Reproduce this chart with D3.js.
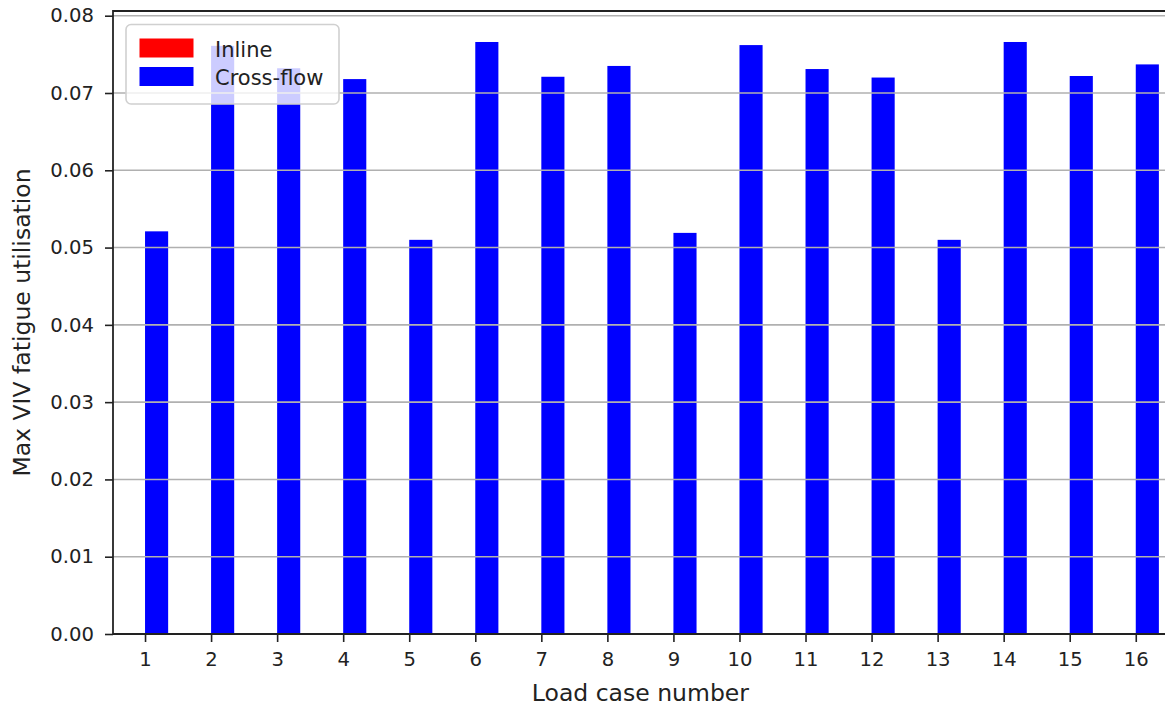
<!DOCTYPE html>
<html>
<head>
<meta charset="utf-8">
<script src="https://cdn.jsdelivr.net/npm/d3@7/dist/d3.min.js"></script>
<style>
  html, body { margin: 0; padding: 0; background: #fff; }
  svg { display: block; font-family: "DejaVu Sans", sans-serif; }
</style>
</head>
<body>
<svg id="chart" width="1165" height="707"></svg>
<script>
const loadCases = [1,2,3,4,5,6,7,8,9,10,11,12,13,14,15,16];
const inlineValues = [0,0,0,0,0,0,0,0,0,0,0,0,0,0,0,0];
const crossFlowValues = [0.0521,0.0761,0.0732,0.0718,0.0510,0.0766,0.0721,0.0735,0.0519,0.0762,0.0731,0.0720,0.0510,0.0766,0.0722,0.0737];
const yTicks = [0.00,0.01,0.02,0.03,0.04,0.05,0.06,0.07,0.08];
const seriesNames = ["Inline", "Cross-flow"];
const seriesColors = ["#ff0000", "#0000ff"];

const svg = d3.select("#chart");
const padLeft = 113, padTop = 11, padBottom = 634, rightPx = 1167.8;
const barW = 0.35;

const x = d3.scaleLinear().domain([0.515, 16.485]).range([padLeft, rightPx]);
const y = d3.scaleLinear().domain([0, 0.08061]).range([padBottom, padTop]);

// bars
const gBars = svg.append("g");
gBars.selectAll("rect.inline").data(loadCases).join("rect")
  .attr("class", "inline")
  .attr("x", d => x(d - barW))
  .attr("width", d => x(d) - x(d - barW))
  .attr("y", (d, i) => y(inlineValues[i]))
  .attr("height", (d, i) => y(0) - y(inlineValues[i]))
  .attr("fill", seriesColors[0]);
gBars.selectAll("rect.cross").data(loadCases).join("rect")
  .attr("class", "cross")
  .attr("x", d => x(d))
  .attr("width", d => x(d + barW) - x(d))
  .attr("y", (d, i) => y(crossFlowValues[i]))
  .attr("height", (d, i) => y(0) - y(crossFlowValues[i]))
  .attr("fill", seriesColors[1]);

// grid (drawn above bars)
svg.append("g").selectAll("line").data(yTicks).join("line")
  .attr("x1", padLeft).attr("x2", 1165)
  .attr("y1", d => y(d)).attr("y2", d => y(d))
  .attr("stroke", "#b0b0b0").attr("stroke-width", 1.6);

// axes
const yAxis = d3.axisLeft(y).tickValues(yTicks).tickFormat(d3.format(".2f")).tickSize(8).tickPadding(11);
const gy = svg.append("g").attr("transform", `translate(${padLeft},0)`).call(yAxis);
const xAxis = d3.axisBottom(x).tickValues(loadCases).tickFormat(d3.format("d")).tickSize(8).tickPadding(10);
const gx = svg.append("g").attr("transform", `translate(0,${padBottom})`).call(xAxis);
[gx, gy].forEach(g => {
  g.select(".domain").remove();
  g.selectAll(".tick line").attr("stroke", "#222").attr("stroke-width", 1.6);
  g.selectAll(".tick text").attr("fill", "#222").style("font-size", "19.6px").style("font-family", "DejaVu Sans");
});

// spines
svg.append("line").attr("x1", padLeft).attr("x2", 1165).attr("y1", padBottom).attr("y2", padBottom).attr("stroke", "#222").attr("stroke-width", 1.8);
svg.append("line").attr("x1", padLeft).attr("x2", 1165).attr("y1", padTop).attr("y2", padTop).attr("stroke", "#222").attr("stroke-width", 1.8);
svg.append("line").attr("x1", padLeft).attr("x2", padLeft).attr("y1", padTop - 0.9).attr("y2", padBottom + 0.9).attr("stroke", "#222").attr("stroke-width", 1.8);

// axis labels
svg.append("text").attr("x", (padLeft + rightPx) / 2).attr("y", 701)
  .attr("text-anchor", "middle").attr("fill", "#222").style("font-size", "23.5px")
  .text("Load case number");
svg.append("text").attr("transform", `translate(30,${(padTop + padBottom) / 2}) rotate(-90)`)
  .attr("text-anchor", "middle").attr("fill", "#222").style("font-size", "23.5px")
  .text("Max VIV fatigue utilisation");

// legend
const lg = svg.append("g");
lg.append("rect").attr("x", 126).attr("y", 24.5).attr("width", 213).attr("height", 79.5)
  .attr("rx", 5).attr("fill", "#fff").attr("fill-opacity", 0.8)
  .attr("stroke", "#d0d0d0").attr("stroke-width", 1.6);
seriesNames.forEach((name, i) => {
  lg.append("rect").attr("x", 139.5).attr("y", 38.5 + i * 28.5).attr("width", 54).attr("height", 19)
    .attr("fill", seriesColors[i]);
  lg.append("text").attr("x", 215).attr("y", 56.5 + i * 28.5).attr("fill", "#222")
    .style("font-size", "21px").text(name);
});
</script>
</body>
</html>
